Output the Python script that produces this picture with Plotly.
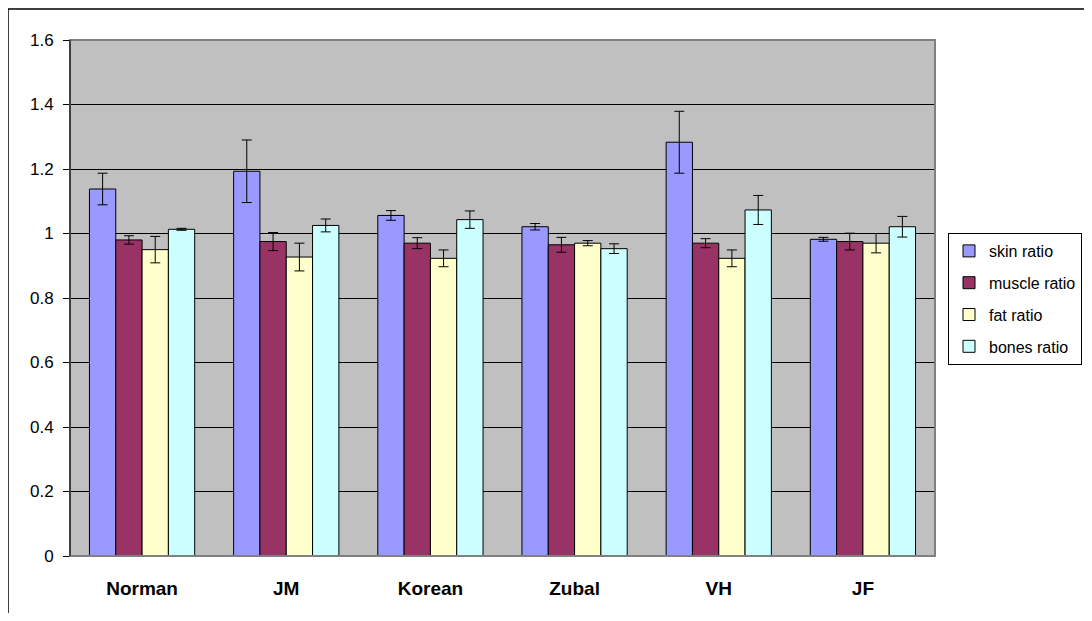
import plotly.graph_objects as go

categories = ["Norman", "JM", "Korean", "Zubal", "VH", "JF"]
series_names = ["skin ratio", "muscle ratio", "fat ratio", "bones ratio"]
skin = [1.138, 1.193, 1.056, 1.021, 1.283, 0.982]
skin_err = [0.049, 0.097, 0.015, 0.010, 0.096, 0.006]
muscle = [0.980, 0.975, 0.970, 0.965, 0.970, 0.975]
muscle_err = [0.013, 0.028, 0.017, 0.023, 0.014, 0.026]
fat = [0.950, 0.927, 0.923, 0.970, 0.923, 0.970]
fat_err = [0.041, 0.043, 0.026, 0.008, 0.026, 0.030]
bones = [1.013, 1.025, 1.043, 0.953, 1.073, 1.021]
bones_err = [0.003, 0.020, 0.027, 0.015, 0.045, 0.032]
colors = ["#9999FF", "#993366", "#FFFFCC", "#CCFFFF"]
y_ticks = [0, 0.2, 0.4, 0.6, 0.8, 1.0, 1.2, 1.4, 1.6]
y_tick_text = ["0", "0.2", "0.4", "0.6", "0.8", "1", "1.2", "1.4", "1.6"]

values = [skin, muscle, fat, bones]
errors = [skin_err, muscle_err, fat_err, bones_err]

fig = go.Figure()
for i, name in enumerate(series_names):
    fig.add_trace(go.Bar(
        x=categories, y=values[i], name=name,
        marker=dict(color=colors[i], line=dict(color="black", width=1)),
        error_y=dict(type="data", array=errors[i], color="black", thickness=1, width=5),
        legendgroup=name,
    ))

# page body has an 8px offset; compensate so the picture lands where the reference is
OFF = 8
W, H = 1092 - 2 * OFF, 621 - 2 * OFF
# target plot area in window pixels: x 70..935, y 40..556
L = 70 - OFF
T = 40 - OFF
pw, ph = 865, 516
R = W - L - pw
B = H - T - ph

def px_x(px):
    return (px - OFF - L) / pw

def px_y(py):
    return (T + ph - (py - OFF)) / ph

FONT = "Liberation Sans, Arial, sans-serif"

fig.update_layout(
    width=W, height=H,
    margin=dict(l=L, r=R, t=T, b=B, pad=0, autoexpand=False),
    barmode="group", bargap=0.27, bargroupgap=0,
    plot_bgcolor="#C0C0C0", paper_bgcolor="white",
    font=dict(family=FONT, size=17, color="black"),
    showlegend=True,
    legend=dict(
        x=px_x(948), y=px_y(233), xanchor="left", yanchor="top",
        bordercolor="black", borderwidth=1, bgcolor="white",
        font=dict(size=16), tracegroupgap=8, itemwidth=30,
        traceorder="grouped",
    ),
    xaxis=dict(
        showgrid=False, showline=False, ticks="",
        tickfont=dict(size=19, family=FONT, weight="bold"),
        ticklabelstandoff=19,
    ),
    yaxis=dict(
        range=[0, 1.6], tickvals=y_ticks, ticktext=y_tick_text,
        showgrid=True, gridcolor="black", gridwidth=1,
        showline=True, linecolor="black", linewidth=1,
        ticks="outside", ticklen=6, tickcolor="black",
        zeroline=False, tickfont=dict(size=17), ticklabelstandoff=6,
    ),
    shapes=[
        dict(type="rect", xref="paper", yref="paper", x0=0, x1=1, y0=0, y1=1,
             line=dict(color="#808080", width=2), layer="above"),
        dict(type="line", xref="paper", yref="paper", x0=0, x1=0, y0=0, y1=1,
             line=dict(color="black", width=1), layer="above"),
        dict(type="rect", xref="paper", yref="paper",
             x0=px_x(8), x1=px_x(1110), y0=px_y(650), y1=px_y(9),
             line=dict(color="black", width=1.5), layer="below"),
    ],
)

fig.write_html("out.html")
